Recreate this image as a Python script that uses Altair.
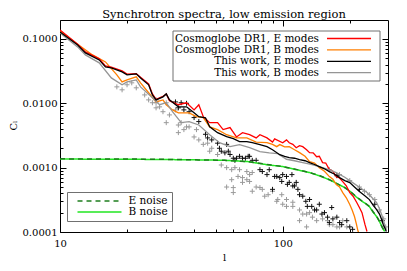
import altair as alt
import pandas as pd

FONT = "DejaVu Serif"

# ---------------- data ----------------
series_names = ["Cosmoglobe DR1, E modes", "Cosmoglobe DR1, B modes",
                "This work, E modes", "This work, B modes"]
series_colors = ["#ff0000", "#ff7f00", "#000000", "#959595"]
series_widths = [1.3, 1.3, 1.8, 1.5]

red_l = [10, 12, 13, 15, 16, 17, 19, 20, 22, 23, 25, 26, 27, 29, 30, 31, 34, 37, 40, 42,
         44, 47, 51, 54, 58, 62, 66, 71, 76, 79, 85, 90, 92, 100, 104, 107, 111, 115, 119, 123,
         128, 132, 137, 142, 146, 151, 156, 162, 168, 174, 180, 186, 193, 200, 207, 215, 221, 227, 234, 239]
red_c = [0.138, 0.083, 0.063, 0.049, 0.038, 0.0365, 0.032, 0.0285, 0.029, 0.0255,
         0.020, 0.014, 0.0115, 0.0128, 0.014, 0.011, 0.0095, 0.0102, 0.0079, 0.0095,
         0.0062, 0.0050, 0.0050, 0.0039, 0.0042, 0.0030, 0.0035, 0.00325, 0.0029, 0.00325,
         0.0029, 0.0025, 0.0028, 0.00244, 0.0027, 0.00244, 0.0023, 0.00204, 0.0022, 0.00212,
         0.0019, 0.00171, 0.0017, 0.00148, 0.0015, 0.0012, 0.00118, 0.00093, 0.00088, 0.000725,
         0.00069, 0.000607, 0.00052, 0.00041, 0.00036, 0.000287, 0.00024, 0.0002, 0.000131, 0.000102]

orange_l = [10, 12, 14, 16, 18, 19, 20, 22, 23, 25, 27, 29, 30, 32, 34, 38, 41, 44, 47, 51,
            56, 62, 69, 76, 85, 90, 94, 97, 102, 107, 113, 119, 126, 132, 139, 146, 154, 162, 168, 174,
            180, 186, 193, 200, 205, 210, 214, 217, 219]
orange_c = [0.133, 0.083, 0.0565, 0.044, 0.0277, 0.0215, 0.0231, 0.0258, 0.0208, 0.0146,
            0.0105, 0.0113, 0.0095, 0.0079, 0.0071, 0.0071, 0.0062, 0.0060, 0.0043, 0.0039,
            0.00325, 0.0029, 0.0029, 0.0025, 0.00244, 0.0023, 0.00212, 0.00228, 0.0021, 0.00212,
            0.0019, 0.00171, 0.0015, 0.00124, 0.00118, 0.0010, 0.00088, 0.000725, 0.00066, 0.000545,
            0.0005, 0.00041, 0.00034, 0.000267, 0.00022, 0.000174, 0.000135, 0.000109, 0.000098]

black_l = [10, 12, 13, 15, 16, 17, 19, 20, 22, 23, 25, 26, 27, 29, 30, 31, 34, 37, 40, 42,
           45, 47, 51, 56, 60, 64, 69, 73, 79, 85, 90, 97, 102, 107, 113, 119, 126, 132, 139, 146,
           154, 162, 171, 180, 190, 200, 210, 221, 233, 245, 255, 264, 272, 278, 283, 287, 292]
black_c = [0.128, 0.0807, 0.0607, 0.0472, 0.0368, 0.0355, 0.0308, 0.0277, 0.0287, 0.0248,
           0.0194, 0.0135, 0.0113, 0.0126, 0.0140, 0.0113, 0.00883, 0.00883, 0.00713, 0.00618,
           0.00596, 0.00432, 0.00349, 0.00303, 0.00282, 0.00253, 0.00253, 0.00244, 0.00228, 0.00212,
           0.0019, 0.00159, 0.00150, 0.00143, 0.00140, 0.00133, 0.00128, 0.0012, 0.00112, 0.00104,
           0.00096, 0.000867, 0.00079, 0.0007, 0.00063, 0.000585, 0.00050, 0.000425, 0.00037, 0.000319,
           0.00026, 0.000223, 0.00019, 0.000156, 0.00013, 0.000117, 0.000102]

gray_l = [10, 12, 13, 15, 17, 19, 20, 22, 23, 26, 28, 30, 32, 35, 38, 42, 47, 52, 58, 64,
          71, 79, 87, 95, 104, 113, 123, 134, 146, 160, 174, 190, 206, 222, 239, 252, 264, 272, 280, 287, 292]
gray_c = [0.124, 0.0752, 0.0565, 0.0425, 0.0248, 0.0194, 0.0215, 0.0231, 0.018, 0.0122,
          0.0095, 0.0102, 0.0074, 0.0050, 0.0052, 0.0046, 0.00325, 0.00244, 0.00212, 0.00228,
          0.00204, 0.00177, 0.0017, 0.00165, 0.00135, 0.00128, 0.0012, 0.00112, 0.00104, 0.00094,
          0.000836, 0.00071, 0.000585, 0.00049, 0.00041, 0.00034, 0.000287, 0.00023, 0.000174, 0.00013, 0.000109]

noise_names = ["E noise", "B noise"]
noise_colors = ["#1e7d1e", "#22e622"]
noise_dashes = [[5, 4], [1, 0]]
noise_l = [10, 20, 28, 42, 55, 70, 85, 100, 115, 132, 147, 162, 176, 190, 202, 213,
           225, 236, 245, 255, 264, 272, 280, 287]
e_noise_c = [0.00137, 0.00136, 0.00135, 0.00132, 0.0013, 0.00124, 0.00112, 0.00104, 0.00094, 0.00084,
             0.00075, 0.00065, 0.00056, 0.00049, 0.00042, 0.00036, 0.00031, 0.000275, 0.00025, 0.000205,
             0.000175, 0.000146, 0.000118, 0.000102]
b_noise_c = [0.00136, 0.00135, 0.00134, 0.00132, 0.0013, 0.00124, 0.00111, 0.00104, 0.00093, 0.00084,
             0.00074, 0.00065, 0.00056, 0.00049, 0.00042, 0.000355, 0.000307, 0.000275, 0.000248, 0.000202,
             0.000174, 0.000146, 0.000117, 0.000102]

# crosses (per-multipole points)
bx_l = [33, 34, 35, 36, 37, 38, 40, 42, 45, 46, 48, 51, 52, 53, 55, 56, 57, 58, 60, 61,
        62, 64, 66, 68, 70, 71, 73, 76, 79, 81, 85, 87, 90, 92, 94, 97, 99, 100, 104, 105,
        107, 110, 111, 113, 115, 117, 119, 123, 127, 129, 132, 135, 139, 142, 146, 150, 154, 159, 162, 166,
        168, 175, 180, 184, 194, 200, 206, 175, 221, 259, 280]
bx_c = [0.0105, 0.0085, 0.0102, 0.0079, 0.0100, 0.0074, 0.0060, 0.0052, 0.0033, 0.0029,
        0.0027, 0.0024, 0.0020, 0.0018, 0.0017, 0.0023, 0.0018, 0.0016, 0.0014, 0.0013,
        0.0014, 0.0015, 0.0014, 0.0014, 0.0015, 0.0015, 0.0013, 0.0013, 0.00093, 0.00087,
        0.00078, 0.00093, 0.00046, 0.00073, 0.00073, 0.0007, 0.00061, 0.00078, 0.00073, 0.00055,
        0.00059, 0.00078, 0.00052, 0.00052, 0.00059, 0.00046, 0.00038, 0.00036, 0.0003, 0.00025,
        0.00032, 0.00025, 0.00022, 0.00022, 0.00027, 0.00019, 0.0002, 0.00017, 0.00014, 0.00024,
        0.00016, 0.00017, 0.00014, 0.00013, 0.00015, 0.00012, 0.00011, 0.00075, 0.00046, 0.00027, 0.00015]

gx_l = [18, 19, 20, 21, 22, 24, 25, 26, 27, 27, 27, 28, 29, 30, 30, 31, 33, 34, 35, 34,
        36, 37, 38, 40, 41, 42, 44, 46, 47, 48, 51, 53, 56, 56, 59, 59, 60, 60, 61, 63,
        64, 66, 66, 69, 69, 71, 71, 73, 73, 76, 79, 81, 83, 86, 90, 94, 95, 99, 100, 104,
        104, 111, 111, 119, 119, 123, 128, 128, 132, 136, 142, 151, 159, 162, 168, 175, 180, 186, 194,
        162, 180, 200, 221, 233, 245, 259, 272, 284, 290]
gx_c = [0.0180, 0.0162, 0.0194, 0.0208, 0.0174, 0.0135, 0.0113, 0.0102, 0.0102, 0.0113,
        0.0085, 0.0088, 0.0074, 0.0050, 0.0102, 0.0066, 0.0079, 0.0046, 0.0050, 0.0035,
        0.0039, 0.0043, 0.0043, 0.0030, 0.0039, 0.0027, 0.0023, 0.0024, 0.0018, 0.0020,
        0.0016, 0.0011, 0.0010, 0.00050, 0.00093, 0.00065, 0.00049, 0.00041, 0.0010, 0.00073,
        0.00093, 0.00070, 0.00059, 0.00065, 0.00087, 0.00078, 0.00061, 0.00084, 0.00043, 0.00050,
        0.00049, 0.00046, 0.00036, 0.00038, 0.00043, 0.00030, 0.00032, 0.00038, 0.00027, 0.00032,
        0.00025, 0.00025, 0.00029, 0.00022, 0.00015, 0.00019, 0.00019, 0.00012, 0.00020, 0.00017,
        0.00015, 0.00016, 0.00015, 0.00013, 0.00013, 0.00012, 0.00012, 0.00015, 0.00012,
        0.00093, 0.00078, 0.00063, 0.00050, 0.00043, 0.00038, 0.00032, 0.00022, 0.00016, 0.00012]

# axis tick values
x_label_values = [10, 100]
x_tick_values = [10, 20, 30, 40, 50, 60, 70, 80, 90, 100, 200]
y_label_values = [0.1, 0.01, 0.001, 0.0001]
y_tick_values = [0.0001, 0.0002, 0.0003, 0.0004, 0.0005, 0.0006, 0.0007, 0.0008, 0.0009,
                 0.001, 0.002, 0.003, 0.004, 0.005, 0.006, 0.007, 0.008, 0.009,
                 0.01, 0.02, 0.03, 0.04, 0.05, 0.06, 0.07, 0.08, 0.09, 0.1]

# ---------------- tables ----------------
draw_order = [1, 0, 3, 2]  # orange, red, gray, black (bottom to top)
spec_ls = [red_l, orange_l, black_l, gray_l]
spec_cs = [red_c, orange_c, black_c, gray_c]
spec_rows = []
for i in draw_order:
    for l, c in zip(spec_ls[i], spec_cs[i]):
        spec_rows.append({"l": l, "C": c, "series": series_names[i]})
spec_df = pd.DataFrame(spec_rows)

noise_rows = []
for name, cs in [(noise_names[1], b_noise_c), (noise_names[0], e_noise_c)]:
    for l, c in zip(noise_l, cs):
        noise_rows.append({"l": l, "C": c, "noise": name})
noise_df = pd.DataFrame(noise_rows)

bx_df = pd.DataFrame({"l": bx_l, "C": bx_c})
gx_df = pd.DataFrame({"l": gx_l, "C": gx_c})

# ---------------- layout ----------------
W, H = 328, 212
xs = alt.Scale(type="log", domain=[10, 297], nice=False)
ys = alt.Scale(type="log", domain=[0.0001, 0.197], nice=False)

MAJOR = "abs(log(datum.value)/LN10 - round(log(datum.value)/LN10)) < 0.01"
tick_len = {"condition": {"test": MAJOR, "value": 6}, "value": 3}


def tick_axis(orient, offset, values):
    return alt.Axis(orient=orient, offset=offset, values=values, labels=False,
                    domain=False, grid=False, ticks=True, tickColor="black",
                    tickWidth=1, tickSize=tick_len, title=None)


x_label_axis = alt.Axis(orient="bottom", values=x_label_values, format="d", ticks=False,
                        tickSize=0, domain=False, grid=False, labelFlush=False,
                        labelOverlap=False, labelPadding=11, labelBaseline="middle",
                        labelFont=FONT, labelFontSize=10, labelColor="black",
                        title="l", titleFont=FONT, titleFontSize=10, titleFontWeight="normal",
                        titleColor="black", titleX=W / 2, titleY=28, titleAlign="center",
                        titleBaseline="alphabetic")
y_label_axis = alt.Axis(orient="left", values=y_label_values, format=".4f", ticks=False,
                        tickSize=0, domain=False, grid=False, labelFlush=False,
                        labelOverlap=False, labelPadding=3, labelFont=FONT, labelFontSize=10,
                        labelColor="black", title="Cₗ", titleFont=FONT, titleFontSize=10,
                        titleFontWeight="normal", titleColor="black", titleAngle=270,
                        titleX=-44, titleY=105, titleAlign="center", titleBaseline="alphabetic")

legend_noise = alt.Legend(title=None, orient="none", legendX=7, legendY=172, direction="vertical",
                          symbolType="stroke", symbolSize=1936, symbolStrokeWidth=1.5,
                          symbolOffset=6, labelAlign="left", labelOffset=6,
                          labelFont=FONT, labelFontSize=10.5, labelColor="black",
                          clipHeight=11, rowPadding=0, padding=3.5,
                          strokeColor="#707070", fillColor="white")

gray_cross = alt.Chart(gx_df).mark_point(
    shape="M-1,0L1,0M0,-1L0,1", filled=False, size=25, strokeWidth=1, opacity=1,
    color="#9a9a9a", clip=True
).encode(
    x=alt.X("l:Q", scale=xs, axis=None),
    y=alt.Y("C:Q", scale=ys, axis=None),
)

black_cross = alt.Chart(bx_df).mark_point(
    shape="M-1,0L1,0M0,-1L0,1", filled=False, size=25, strokeWidth=1, opacity=1,
    color="#111111", clip=True
).encode(
    x=alt.X("l:Q", scale=xs, axis=tick_axis("bottom", -H, x_tick_values)),
    y=alt.Y("C:Q", scale=ys, axis=tick_axis("left", -W, y_tick_values)),
)

noise = alt.Chart(noise_df).mark_line(strokeWidth=1.5, clip=True).encode(
    x=alt.X("l:Q", scale=xs, axis=tick_axis("top", -H, x_tick_values)),
    y=alt.Y("C:Q", scale=ys, axis=tick_axis("right", -W, y_tick_values)),
    stroke=alt.Stroke("noise:N", scale=alt.Scale(domain=noise_names, range=noise_colors),
                      legend=legend_noise),
    strokeDash=alt.StrokeDash("noise:N", scale=alt.Scale(domain=noise_names, range=noise_dashes),
                              legend=legend_noise),
)

spectra = alt.Chart(spec_df).mark_line(clip=True).encode(
    x=alt.X("l:Q", scale=xs, axis=x_label_axis),
    y=alt.Y("C:Q", scale=ys, axis=y_label_axis),
    color=alt.Color("series:N", scale=alt.Scale(domain=series_names, range=series_colors),
                    legend=None),
    strokeWidth=alt.StrokeWidth("series:N",
                                scale=alt.Scale(domain=series_names, range=series_widths),
                                legend=None),
)

# ---- spectra key (labels right-aligned, line sample to the right of each label) ----
KEY_X0, KEY_X1, KEY_Y0, KEY_Y1 = 113, 320, 11, 61
KEY_TEXT_X, KEY_LINE_X0, KEY_LINE_X1 = 259, 267, 311
KEY_ROW0, KEY_ROW_STEP = 18.5, 11.4

key_layers = [
    alt.Chart(pd.DataFrame({"series": [series_names[0]]})).mark_rect(
        fill="white", stroke="#707070", strokeWidth=1
    ).encode(x=alt.value(KEY_X0), x2=alt.value(KEY_X1), y=alt.value(KEY_Y0), y2=alt.value(KEY_Y1))
]
for i, (name, col) in enumerate(zip(series_names, series_colors)):
    row_y = KEY_ROW0 + KEY_ROW_STEP * i
    one = pd.DataFrame({"series": [name]})
    key_layers.append(
        alt.Chart(one).mark_text(align="right", baseline="middle", font=FONT, fontSize=10.5,
                                 color="black").encode(
            x=alt.value(KEY_TEXT_X), y=alt.value(row_y), text="series:N")
    )
    key_layers.append(
        alt.Chart(one).mark_rule(color=col, strokeWidth=1.3).encode(
            x=alt.value(KEY_LINE_X0), x2=alt.value(KEY_LINE_X1), y=alt.value(row_y))
    )

chart = alt.layer(gray_cross, black_cross, noise, spectra, *key_layers).resolve_axis(
    x="independent", y="independent"
).properties(
    width=W, height=H,
    autosize=alt.AutoSizeParams(type="none"),
    padding={"left": 52, "top": 12, "right": 11, "bottom": 31},
    background="white",
    title=alt.TitleParams(text="Synchrotron spectra, low emission region", font=FONT,
                          fontSize=11.5, fontWeight="normal", color="black",
                          anchor="middle", frame="group", offset=0, dy=1),
).configure_view(stroke="black", strokeWidth=1)

chart.save("out.html", embed_options={"renderer": "svg", "actions": False})
